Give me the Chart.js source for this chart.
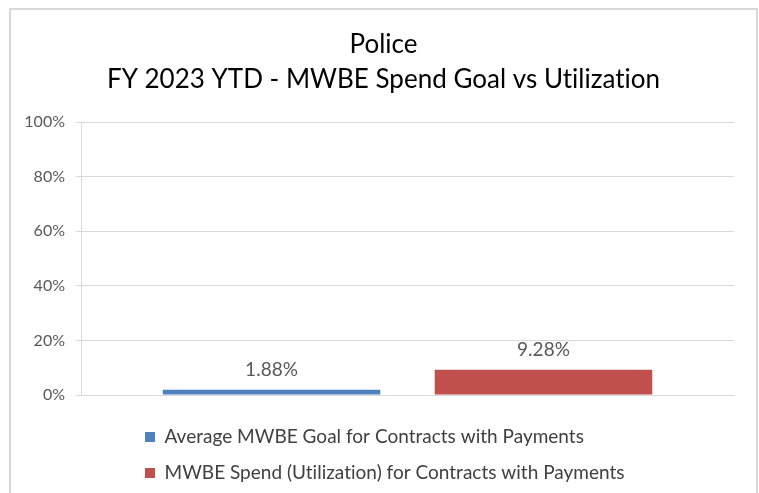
<!DOCTYPE html>
<html>
<head>
<meta charset="utf-8">
<script src="https://cdn.jsdelivr.net/npm/chart.js@4/dist/chart.umd.min.js"></script>
<style>
  body { margin: 0; background: #fff; }
  #wrap { position: relative; width: 759px; height: 493px; overflow: hidden; }
  #frame { position: absolute; left: 9px; top: 8px; width: 745px; height: 500px; border: 2px solid #d9d9d9; pointer-events: none; }
</style>
</head>
<body>
<div id="wrap">
  <canvas id="mwbe-chart" width="759" height="493"></canvas>
  <div id="frame"></div>
</div>
<script>
const agency = 'Police';
const chartTitle = 'FY 2023 YTD - MWBE Spend Goal vs Utilization';
const categories = [''];
const seriesNames = ['Average MWBE Goal for Contracts with Payments', 'MWBE Spend (Utilization) for Contracts with Payments'];
const goalValues = [1.88];
const spendValues = [9.28];
const seriesColors = ['#4f81bd', '#c0504d'];
const yTicks = [0, 20, 40, 60, 80, 100];

const fontFamily = 'Lato, "Open Sans", sans-serif';

// tiny letter spacing keeps Lato from swapping in its "ti" ligature
const noLigatures = {
  id: 'noLigatures',
  beforeDraw(chart) {
    chart.ctx.letterSpacing = '0.01px';
  }
};

// value labels above each bar
const barLabels = {
  id: 'barLabels',
  afterDatasetsDraw(chart) {
    const ctx = chart.ctx;
    ctx.save();
    ctx.font = '19px ' + fontFamily;
    ctx.fillStyle = '#595959';
    ctx.textAlign = 'center';
    ctx.textBaseline = 'middle';
    chart.data.datasets.forEach((ds, i) => {
      chart.getDatasetMeta(i).data.forEach((bar, j) => {
        ctx.fillText(ds.data[j].toFixed(2) + '%', bar.x, bar.y - 20);
      });
    });
    ctx.restore();
  }
};

// push the legend rows in under the plot
const legendOffset = {
  id: 'legendOffset',
  afterLayout(chart) {
    chart.legend.left += 47;
  }
};

const ctx = document.getElementById('mwbe-chart');

new Chart(ctx, {
  type: 'bar',
  data: {
    labels: categories,
    datasets: [{
      label: seriesNames[0],
      data: goalValues,
      backgroundColor: seriesColors[0],
      borderWidth: 0
    }, {
      label: seriesNames[1],
      data: spendValues,
      backgroundColor: seriesColors[1],
      borderWidth: 0
    }]
  },
  options: {
    responsive: false,
    animation: false,
    categoryPercentage: 0.833,
    barPercentage: 0.8,
    layout: {
      padding: { left: 10, right: 2, top: 10, bottom: 0.5 }
    },
    scales: {
      x: {
        grid: { display: false },
        border: { color: '#d9d9d9' },
        ticks: { display: false },
        afterFit(scale) { scale.height = 15.5; }
      },
      y: {
        min: 0,
        max: 100,
        afterBuildTicks(scale) {
          scale.ticks = yTicks.map(v => ({ value: v }));
        },
        ticks: {
          padding: 11,
          color: '#595959',
          font: { family: fontFamily, size: 16 },
          callback: v => v + '%'
        },
        grid: { color: '#d9d9d9', tickLength: 5 },
        border: { color: '#d9d9d9' },
        afterFit(scale) { scale.width = 71; }
      },
      // empty right-hand spacer so the plot stops short of the frame
      spacer: {
        type: 'linear',
        position: 'right',
        grid: { display: false },
        border: { display: false },
        ticks: { display: false },
        afterFit(scale) { scale.width = 23; }
      }
    },
    plugins: {
      title: {
        display: true,
        text: [agency, chartTitle],
        color: '#000',
        font: { family: fontFamily, size: 26, weight: 'normal', lineHeight: '35px' },
        padding: { top: 17.5, bottom: 24.5 }
      },
      legend: {
        position: 'bottom',
        align: 'start',
        fullSize: false,
        labels: {
          boxWidth: 10,
          boxHeight: 10,
          padding: 17,
          color: '#404040',
          font: { family: fontFamily, size: 19 }
        }
      },
      tooltip: { enabled: false }
    }
  },
  plugins: [noLigatures, barLabels, legendOffset]
});
</script>
</body>
</html>
